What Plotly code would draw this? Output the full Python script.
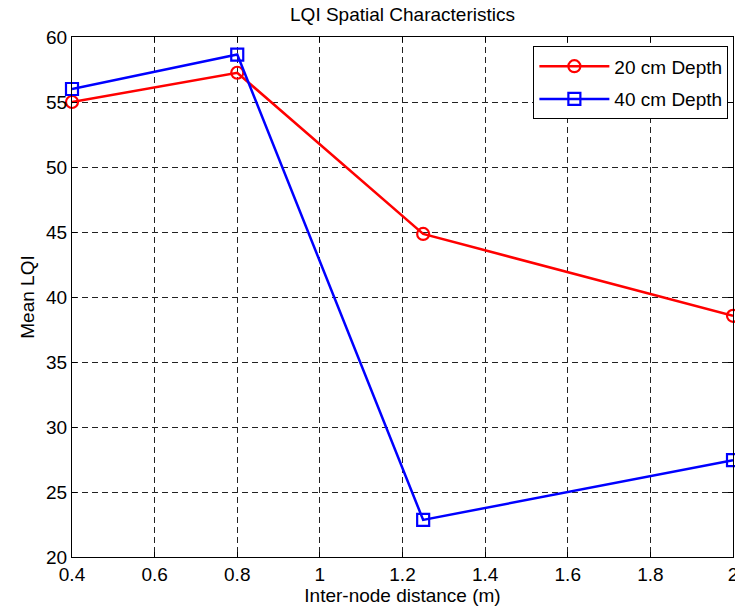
import plotly.graph_objects as go

distance = [0.4, 0.8, 1.25, 2.0]
lqi_20cm = [55.0, 57.25, 44.85, 38.55]
lqi_40cm = [56.0, 58.65, 22.85, 27.45]
x_ticks = [0.4, 0.6, 0.8, 1.0, 1.2, 1.4, 1.6, 1.8, 2.0]
x_tick_text = ["0.4", "0.6", "0.8", "1", "1.2", "1.4", "1.6", "1.8", "2"]
y_ticks = [20, 25, 30, 35, 40, 45, 50, 55, 60]

FONT = "Liberation Sans, Arial, Helvetica, sans-serif"
FS = 19

fig = go.Figure()
fig.add_trace(go.Scatter(
    x=distance, y=lqi_20cm, mode="lines+markers", name="20 cm Depth",
    legendgroup="a",
    line=dict(color="#ff0000", width=2.5),
    marker=dict(symbol="circle-open", size=12, color="#ff0000", line=dict(width=2.2, color="#ff0000")),
    cliponaxis=False,
))
fig.add_trace(go.Scatter(
    x=distance, y=lqi_40cm, mode="lines+markers", name="40 cm Depth",
    legendgroup="b",
    line=dict(color="#0000ff", width=2.5),
    marker=dict(symbol="square-open", size=12, color="#0000ff", line=dict(width=2.2, color="#0000ff")),
    cliponaxis=False,
))

axis_common = dict(
    showline=True, linecolor="black", linewidth=1, mirror="ticks",
    ticks="inside", ticklen=5, tickcolor="black",
    showgrid=True, gridcolor="#222222", gridwidth=1, griddash="6px,4px",
    zeroline=False,
    tickfont=dict(family=FONT, size=FS, color="black"),
    ticklabeloverflow="allow",
    automargin=False,
)

fig.update_xaxes(range=[0.4, 2.0], tickvals=x_ticks, ticktext=x_tick_text,
                 title=dict(text="Inter-node distance (m)", font=dict(family=FONT, size=FS, color="black"), standoff=4),
                 **axis_common)
fig.update_yaxes(range=[20, 60], tickvals=y_ticks,
                 title=dict(text="Mean LQI", font=dict(family=FONT, size=FS, color="black"), standoff=6),
                 **axis_common)

fig.update_layout(
    width=735, height=613,
    margin=dict(l=72, r=2, t=37, b=56, autoexpand=False),
    paper_bgcolor="white", plot_bgcolor="white",
    title=dict(text="LQI Spatial Characteristics", xref="paper", x=0.5, xanchor="center",
               yref="container", y=1 - 14 / 613, yanchor="middle",
               font=dict(family=FONT, size=FS, color="black")),
    legend=dict(x=0.993, y=0.982, xanchor="right", yanchor="top",
                bgcolor="white", bordercolor="black", borderwidth=1,
                font=dict(family=FONT, size=FS, color="black"),
                tracegroupgap=5, itemwidth=70),
    showlegend=True,
)

fig.write_html("out.html")
